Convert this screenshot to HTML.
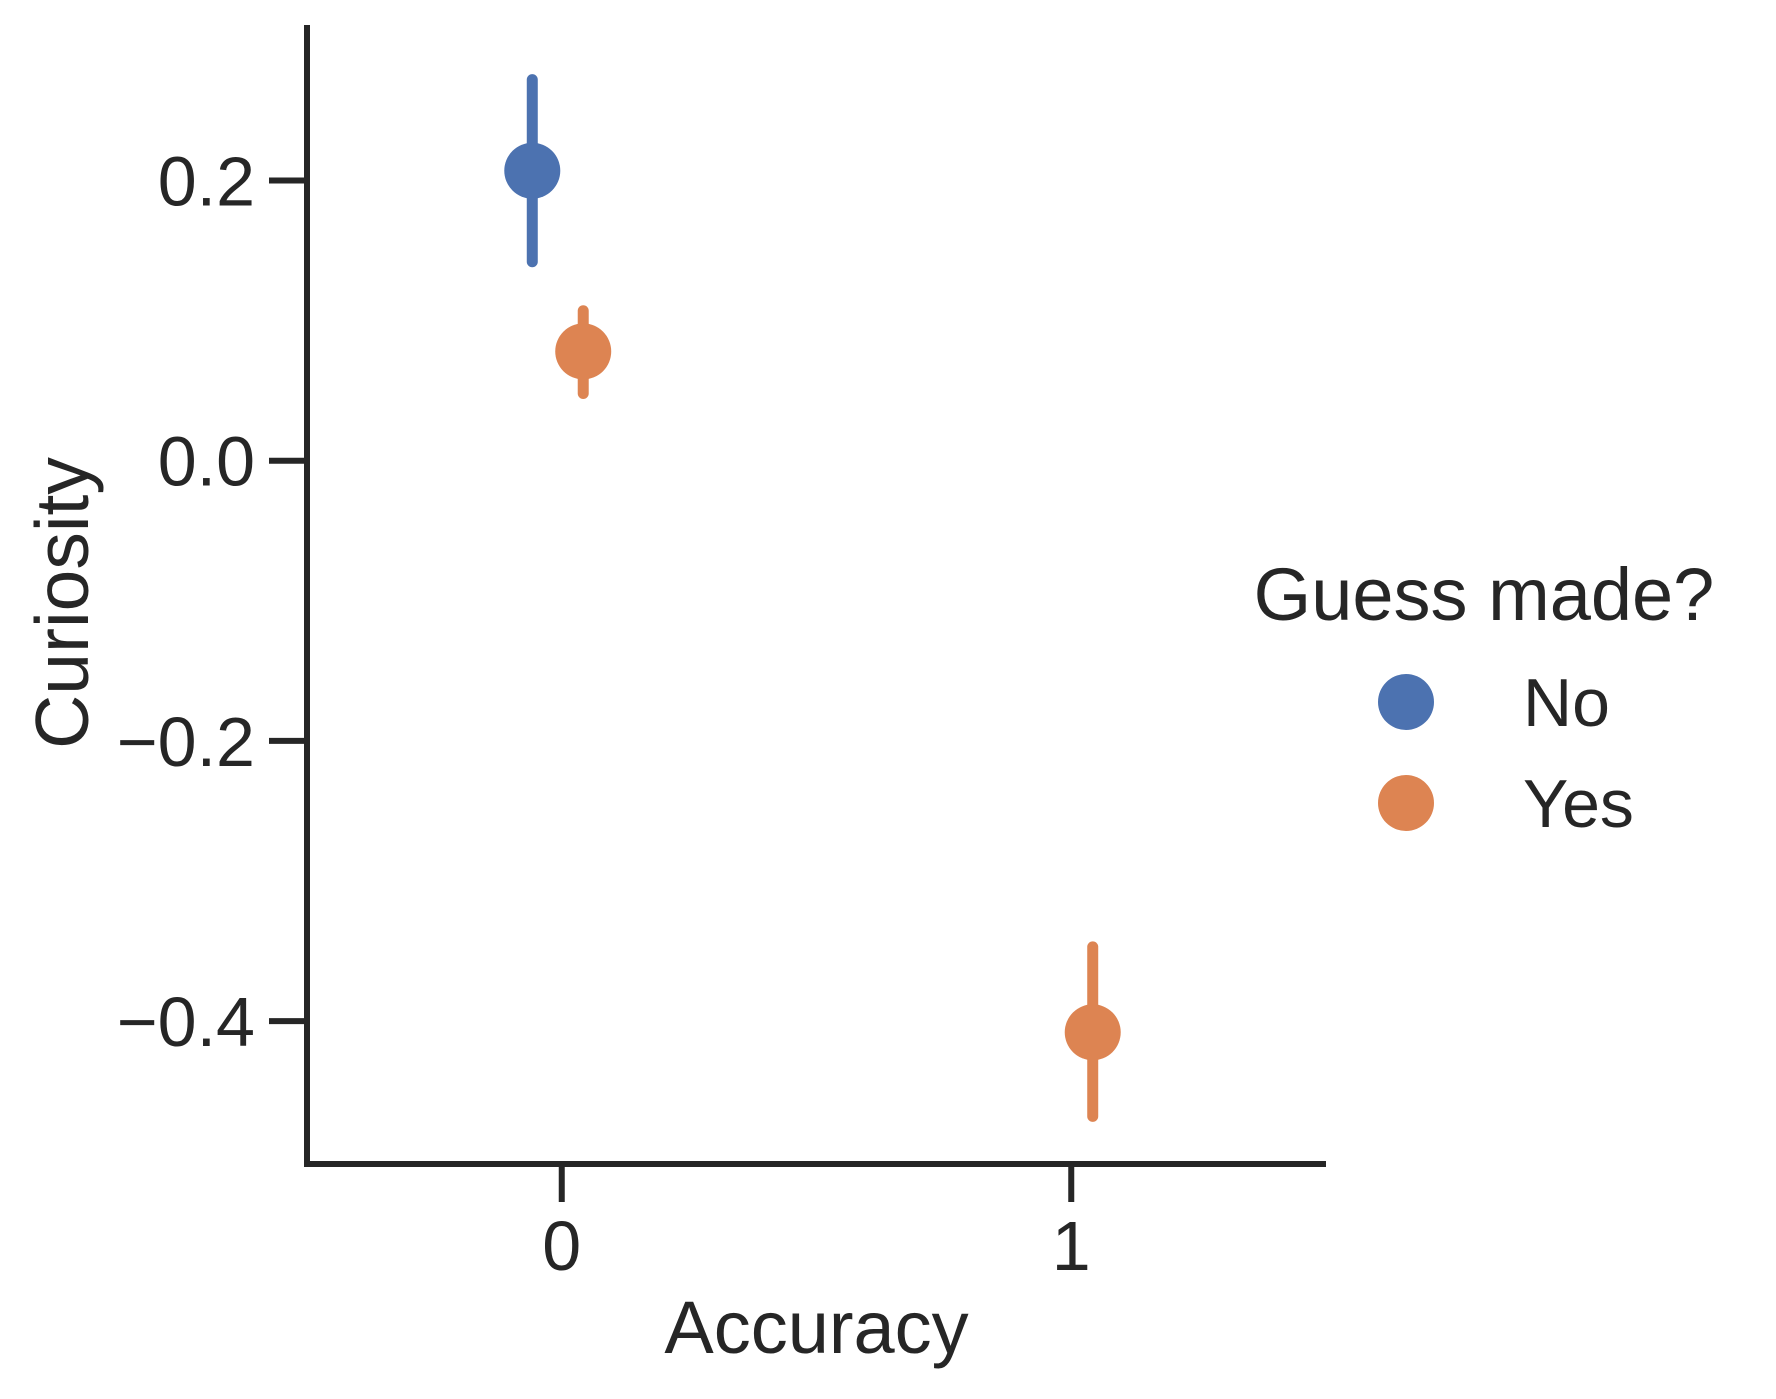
<!DOCTYPE html>
<html><head><meta charset="utf-8"><style>
html,body{margin:0;padding:0;background:#fff;}
svg text{font-family:"Liberation Sans",Arial,sans-serif;fill:#262626;}
</style></head><body>
<svg id="chart" width="1776" height="1394" viewBox="0 0 1776 1394" xmlns="http://www.w3.org/2000/svg"></svg>
<script>
const categories = [0, 1];
const hueLevels = ["No", "Yes"];
const hueColors = ["#4c72b0", "#dd8452"];
const seriesNoMean = [0.207, null];
const seriesNoLow = [0.142, null];
const seriesNoHigh = [0.272, null];
const seriesYesMean = [0.078, -0.408];
const seriesYesLow = [0.048, -0.468];
const seriesYesHigh = [0.107, -0.347];
const yTicks = [0.2, 0.0, -0.2, -0.4];
const yTickLabels = ["0.2", "0.0", "\u22120.2", "\u22120.4"];

const NS = "http://www.w3.org/2000/svg";
const svg = document.getElementById("chart");
const X0 = 307, X1 = 1326, Y0 = 25, Y1 = 1164;
const xDom = [-0.5, 1.5], yDom = [-0.502, 0.311];
function xs(v){ return X0 + (v - xDom[0]) / (xDom[1] - xDom[0]) * (X1 - X0); }
function ys(v){ return Y1 - (v - yDom[0]) / (yDom[1] - yDom[0]) * (Y1 - Y0); }
function mk(tag, attrs, text){
  const e = document.createElementNS(NS, tag);
  for (const k in attrs) e.setAttribute(k, attrs[k]);
  if (text !== undefined) e.textContent = text;
  svg.appendChild(e);
  return e;
}
let e;
e = mk("line",{x1:X0,y1:Y0,x2:X0,y2:Y1+3,stroke:"#262626","stroke-width":6});


e = mk("line",{x1:X0-3,y1:Y1,x2:X1,y2:Y1,stroke:"#262626","stroke-width":6});



yTicks.forEach((t,i)=>{
  const y = ys(t);
  let l = mk("line",{x1:X0-38,y1:y,x2:X0,y2:y,stroke:"#262626","stroke-width":6});
  
  
  let tx = mk("text",{x:X0-52,y:y+25,"text-anchor":"end","font-size":70}, yTickLabels[i]);
  
  
});
categories.forEach((c,i)=>{
  const x = xs(i);
  let l = mk("line",{x1:x,y1:Y1,x2:x,y2:Y1+38,stroke:"#262626","stroke-width":6});
  
  
  let tx = mk("text",{x:x,y:1270,"text-anchor":"middle","font-size":70}, String(c));
  
  
});
e = mk("text",{x:(X0+X1)/2,y:1353,"text-anchor":"middle","font-size":74},"Accuracy");


e = mk("text",{x:0,y:0,"text-anchor":"middle","font-size":75,transform:"translate(88,603) rotate(-90)"},"Curiosity");



const series = [[seriesNoMean,seriesNoLow,seriesNoHigh],[seriesYesMean,seriesYesLow,seriesYesHigh]];
const dodge = [-0.05, 0.05];
series.forEach((s,h)=>{
  s[0].forEach((m,i)=>{
    if (m === null) return;
    const x = xs(i + dodge[h]) - 4;
    let l = mk("line",{x1:x,y1:ys(s[1][i]),x2:x,y2:ys(s[2][i]),stroke:hueColors[h],"stroke-width":11,"stroke-linecap":"round"});
    
    
    let p = mk("circle",{cx:x,cy:ys(m),r:28,fill:hueColors[h]});
    
    
  });
});

e = mk("text",{x:1484,y:620,"text-anchor":"middle","font-size":74},"Guess made?");


hueLevels.forEach((h,i)=>{
  const y = 702 + i*101;
  let c = mk("circle",{cx:1406,cy:y,r:28,fill:hueColors[i]});
  
  
  let t = mk("text",{x:1523,y:y+24,"font-size":68},h);
  
  
});
</script>
</body></html>
